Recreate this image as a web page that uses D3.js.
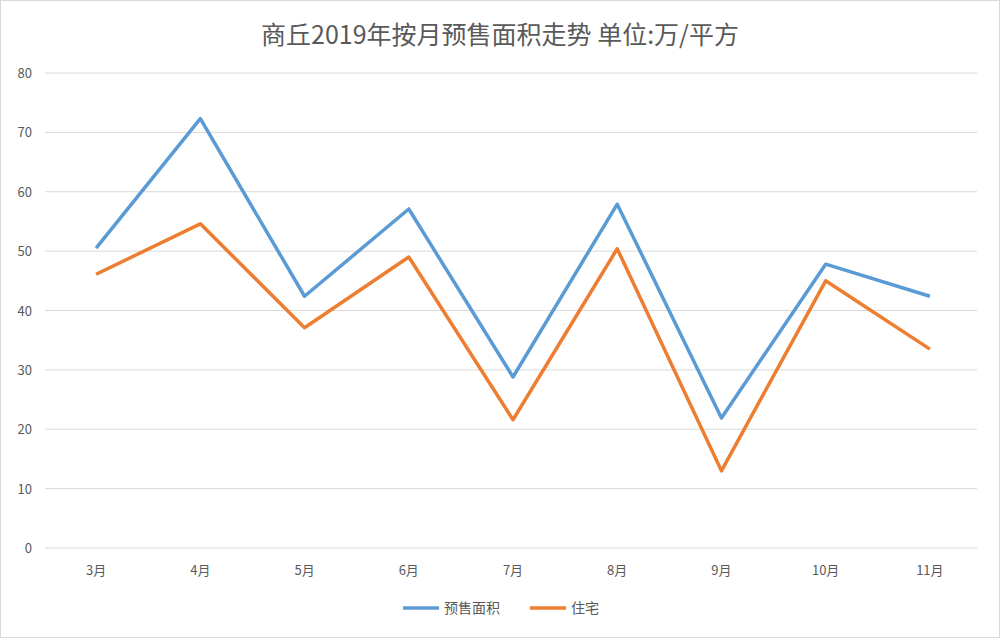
<!DOCTYPE html>
<html><head><meta charset="utf-8">
<script src="https://cdn.jsdelivr.net/npm/d3@7"></script>
<style>body{margin:0;background:#fff}text{font-family:"Noto Sans CJK SC","Noto Sans",sans-serif}</style>
</head><body>
<svg id="c" width="1000" height="638"></svg>
<script>
const months=["3月","4月","5月","6月","7月","8月","9月","10月","11月"];
const presale=[50.5,72.3,42.4,57.1,28.8,57.9,21.9,47.8,42.4];
const housing=[46.1,54.6,37.1,49.0,21.6,50.4,13.0,45.0,33.5];
const yTicks=[0,10,20,30,40,50,60,70,80];
const seriesNames=["预售面积","住宅"];
const colors=["#5B9BD5","#ED7D31"];

const svg=d3.select("#c");
svg.append("rect").attr("x",0.5).attr("y",0.5).attr("width",999).attr("height",637).attr("fill","#fff").attr("stroke","#d9d9d9");
const x=d3.scaleBand().domain(months).range([44,982]);
const y=d3.scaleLinear().domain([0,80]).range([548,73]);
svg.append("text").attr("x",500).attr("y",44).attr("text-anchor","middle").attr("font-size",25).attr("fill","#595959").text("商丘2019年按月预售面积走势 单位:万/平方");
const g=svg.append("g");
g.selectAll("line.g").data(yTicks).join("line").attr("x1",45).attr("x2",977).attr("y1",d=>y(d)).attr("y2",d=>y(d)).attr("stroke","#d9d9d9");
g.selectAll("text.y").data(yTicks).join("text").attr("x",32).attr("y",d=>y(d)+5).attr("text-anchor","end").attr("font-size",13).attr("fill","#595959").text(d=>d);
g.selectAll("text.x").data(months).join("text").attr("x",d=>x(d)+x.bandwidth()/2).attr("y",575).attr("text-anchor","middle").attr("font-size",13).attr("fill","#595959").text(d=>d);
const line=d3.line().x((d,i)=>x(months[i])+x.bandwidth()/2).y(d=>y(d));
[presale,housing].forEach((s,k)=>{
  svg.append("path").attr("d",line(s)).attr("fill","none").attr("stroke",colors[k]).attr("stroke-width",3.5).attr("stroke-linejoin","round");
});
const lx=[403,530];
seriesNames.forEach((n,k)=>{
  svg.append("line").attr("x1",lx[k]).attr("x2",lx[k]+36).attr("y1",608).attr("y2",608).attr("stroke",colors[k]).attr("stroke-width",3.5);
  svg.append("text").attr("x",lx[k]+41).attr("y",613).attr("font-size",14).attr("fill","#595959").text(n);
});
</script>
</body></html>
